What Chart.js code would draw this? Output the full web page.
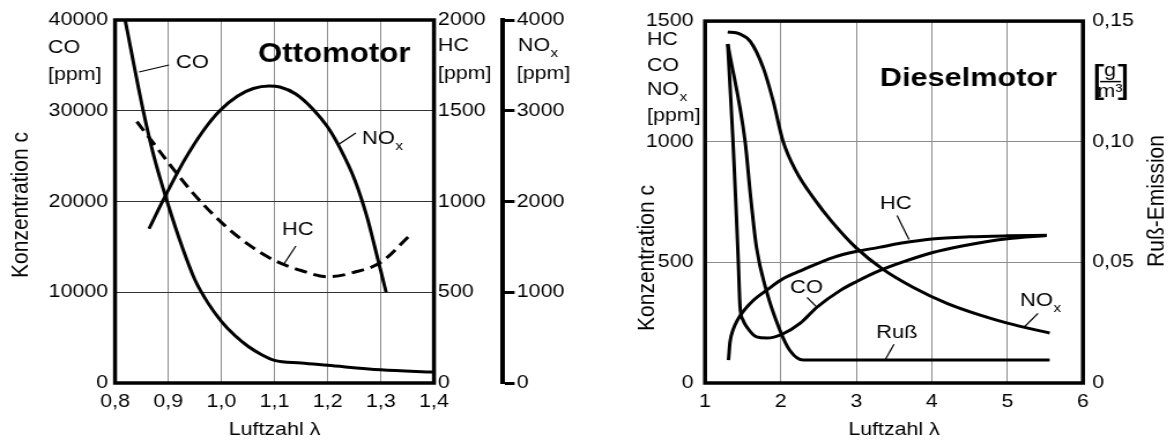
<!DOCTYPE html>
<html>
<head>
<meta charset="utf-8">
<script src="https://cdn.jsdelivr.net/npm/chart.js@4.4.1/dist/chart.umd.min.js"></script>
<style>
  html, body { margin: 0; padding: 0; background: #fff; }
  #wrap { position: relative; width: 1174px; height: 443px; overflow: hidden; }
  canvas { position: absolute; top: 0; }
</style>
</head>
<body>
<div id="wrap">
  <canvas id="otto" width="502" height="443" style="left:0;width:580px;height:443px"></canvas>
  <canvas id="diesel" width="514" height="443" style="left:580px;width:594px;height:443px"></canvas>
</div>
<script>
// --- Ottomotor data (Luftzahl λ -> Konzentration) ---
const ottoLambdaTicks = [0.8, 0.9, 1.0, 1.1, 1.2, 1.3, 1.4];
const ottoLambdaLabels = ['0,8', '0,9', '1,0', '1,1', '1,2', '1,3', '1,4'];
const ottoCoTicks = [0, 10000, 20000, 30000, 40000];
const ottoHcTicks = [0, 500, 1000, 1500, 2000];
const ottoNoxTicks = [0, 1000, 2000, 3000, 4000];

const ottoCoLambda = [0.819, 0.853, 0.873, 0.898, 0.925, 0.95, 0.975, 1.0, 1.025, 1.05, 1.075, 1.1, 1.15, 1.2, 1.3, 1.4];
const ottoCo = [40000, 30000, 25000, 20000, 15200, 11400, 8800, 6800, 5250, 4050, 3150, 2500, 2200, 1950, 1450, 1200];

const ottoHcLambda = [0.841, 0.87, 0.9, 0.95, 1.0, 1.05, 1.1, 1.15, 1.2, 1.25, 1.3, 1.355];
const ottoHc = [1440, 1330, 1215, 1035, 885, 765, 675, 620, 585, 610, 665, 815];

const ottoNoxLambda = [0.864, 0.891, 0.93, 0.966, 0.997, 1.03, 1.06, 1.09, 1.11, 1.14, 1.172, 1.2, 1.223, 1.251, 1.274, 1.292, 1.31];
const ottoNox = [1700, 2020, 2450, 2780, 3000, 3160, 3245, 3273, 3262, 3185, 3020, 2820, 2590, 2237, 1830, 1420, 1000];

// --- Dieselmotor data ---
const dieselLambdaTicks = [1, 2, 3, 4, 5, 6];
const dieselLambdaLabels = ['1', '2', '3', '4', '5', '6'];
const dieselPpmTicks = [0, 500, 1000, 1500];
const dieselRussTicks = [0, 0.05, 0.10, 0.15];
const dieselRussLabels = ['0', '0,05', '0,10', '0,15'];

const dieselNoxLambda = [1.3, 1.45, 1.6, 1.77, 1.9, 2.03, 2.2, 2.45, 2.68, 3.0, 3.35, 3.75, 4.2, 4.64, 5.0, 5.56];
const dieselNox = [1455, 1448, 1415, 1306, 1170, 1004, 880, 760, 668, 560, 472, 397, 330, 281, 248, 207];

const dieselHcLambda = [1.31, 1.33, 1.37, 1.43, 1.5, 1.64, 1.82, 2.03, 2.3, 2.7, 3.0, 3.3, 3.6, 4.0, 4.5, 5.0, 5.52];
const dieselHc = [95, 170, 220, 262, 295, 343, 386, 432, 470, 521, 545, 562, 580, 597, 606, 610, 612];

const dieselCoLambda = [1.3, 1.37, 1.415, 1.44, 1.463, 1.5, 1.55, 1.68, 1.82, 2.02, 2.26, 2.48, 2.79, 3.0, 3.3, 3.6, 4.0, 4.4, 5.0, 5.52];
const dieselCo = [1405, 1000, 690, 500, 315, 262, 233, 191, 186, 202, 248, 314, 384, 420, 465, 500, 540, 568, 598, 611];

const dieselRussLambda = [1.3, 1.53, 1.6, 1.68, 1.81, 1.99, 2.12, 2.3, 5.56];
const dieselRuss = [0.1405, 0.1, 0.078, 0.0562, 0.0384, 0.0219, 0.0136, 0.0095, 0.0095];

// the scan is stretched horizontally, canvases are drawn narrower and widened by css
const S = 1.155;
const FONT = '"Liberation Sans", Arial, sans-serif';

Chart.defaults.font.family = FONT;
Chart.defaults.font.size = 18.5;
Chart.defaults.color = '#000';

function series(xs, ys, axis, dash) {
    return {
        data: xs.map((x, i) => ({ x: x, y: ys[i] })),
        yAxisID: axis,
        borderColor: '#000',
        borderWidth: 3,
        borderDash: dash || [],
        pointRadius: 0,
        fill: false,
        cubicInterpolationMode: 'monotone'
    };
}

function fixedTicks(values) {
    return s => { s.ticks = values.map(v => ({ value: v })); };
}

function txt(ctx, s, x, y, size, opt) {
    opt = opt || {};
    ctx.save();
    ctx.fillStyle = '#000';
    ctx.font = (opt.bold ? 'bold ' : '') + size + 'px ' + FONT;
    ctx.textAlign = opt.align || 'left';
    ctx.textBaseline = 'middle';
    ctx.fillText(s, x, y);
    if (opt.sub) {
        const w = ctx.measureText(s).width;
        ctx.font = Math.round(size * 0.7) + 'px ' + FONT;
        ctx.textAlign = 'left';
        ctx.fillText(opt.sub, x + w + 0.5, y + size * 0.38);
    }
    ctx.restore();
}

function vtxt(ctx, s, x, y, size) {
    ctx.save();
    ctx.translate(x, y);
    ctx.rotate(-Math.PI / 2);
    ctx.fillStyle = '#000';
    ctx.font = size + 'px ' + FONT;
    ctx.textAlign = 'center';
    ctx.textBaseline = 'middle';
    ctx.fillText(s, 0, 0);
    ctx.restore();
}

function leader(ctx, a, b) {
    ctx.save();
    ctx.beginPath();
    ctx.moveTo(a[0], a[1]);
    ctx.lineTo(b[0], b[1]);
    ctx.lineWidth = 1.2;
    ctx.strokeStyle = '#000';
    ctx.stroke();
    ctx.restore();
}

function frame(chart) {
    const { ctx, chartArea: a } = chart;
    ctx.save();
    ctx.lineWidth = 3.5;
    ctx.strokeStyle = '#000';
    ctx.strokeRect(a.left, a.top, a.right - a.left, a.bottom - a.top);
    ctx.restore();
}

const baseOptions = {
    responsive: false,
    devicePixelRatio: 1,
    animation: false,
    events: [],
    layout: { padding: { top: 20, left: 0, right: 0, bottom: 0 } },
    plugins: { legend: { display: false }, tooltip: { enabled: false } }
};

// --- Ottomotor ---
const ottoDecor = {
    id: 'ottoDecor',
    afterDatasetsDraw(chart) {
        const { ctx, chartArea: a, scales: { x, co, hc, nox } } = chart;
        const p = (lx, v) => [x.getPixelForValue(lx), co.getPixelForValue(v)];
        frame(chart);

        // axis units
        txt(ctx, 'CO', co.left + 48 / S, a.top + 28, 18.5);
        txt(ctx, '[ppm]', co.left + 48 / S, a.top + 55, 18.5);
        txt(ctx, 'HC', hc.left + 3.5, a.top + 26, 18.5);
        txt(ctx, '[ppm]', hc.left + 3.5, a.top + 54, 18.5);
        txt(ctx, 'NO', nox.left + 13, a.top + 26, 18.5, { sub: 'x' });
        txt(ctx, '[ppm]', nox.left + 12, a.top + 54, 18.5);
        vtxt(ctx, 'Konzentration c', 21 / S, 205, 21);

        // curve labels
        let q = p(1.0688, 36143);
        txt(ctx, 'Ottomotor', q[0], q[1], 27, { bold: true });
        q = p(0.9147, 35262);
        txt(ctx, 'CO', q[0], q[1], 19);
        leader(ctx, p(0.8451, 34270), p(0.9015, 35041));
        q = p(1.2643, 26887);
        txt(ctx, 'NO', q[0], q[1], 19, { sub: 'x' });
        leader(ctx, p(1.2211, 26300), p(1.2530, 27548));
        q = p(1.1139, 16860);
        txt(ctx, 'HC', q[0], q[1], 19);
        leader(ctx, p(1.1402, 15096), p(1.1177, 13113));
    }
};

new Chart(document.getElementById('otto'), {
    type: 'line',
    data: {
        datasets: [
            series(ottoCoLambda, ottoCo, 'co'),
            series(ottoHcLambda, ottoHc, 'hc', [11, 6]),
            series(ottoNoxLambda, ottoNox, 'nox')
        ]
    },
    options: {
        ...baseOptions,
        scales: {
            x: {
                type: 'linear', min: 0.8, max: 1.4,
                afterBuildTicks: fixedTicks(ottoLambdaTicks),
                afterFit: s => { s.height = 60; },
                ticks: { callback: (v, i) => ottoLambdaLabels[i], padding: 8, maxRotation: 0, autoSkip: false },
                grid: { color: '#8c8c8c', lineWidth: 1, drawTicks: false },
                border: { display: false },
                title: { display: true, text: 'Luftzahl λ', padding: { top: 0, bottom: 2 } }
            },
            co: {
                position: 'left', min: 0, max: 40000,
                afterBuildTicks: fixedTicks(ottoCoTicks),
                afterFit: s => { s.width = 115 / S; },
                ticks: { callback: v => String(v), padding: 6, autoSkip: false },
                grid: { color: '#333', lineWidth: 1, drawTicks: false },
                border: { display: false }
            },
            hc: {
                position: 'right', weight: 0, min: 0, max: 2000,
                afterBuildTicks: fixedTicks(ottoHcTicks),
                afterFit: s => { s.width = 69 / S; },
                ticks: { callback: v => String(v), padding: 3.5, autoSkip: false },
                grid: { drawOnChartArea: false, drawTicks: false },
                border: { display: false }
            },
            nox: {
                position: 'right', weight: 1, min: 0, max: 4000,
                afterBuildTicks: fixedTicks(ottoNoxTicks),
                afterFit: s => { s.width = 77 / S; },
                ticks: { callback: v => String(v), padding: 2, autoSkip: false },
                grid: { drawOnChartArea: false, drawTicks: true, tickLength: 10, tickWidth: 3, tickColor: '#000' },
                border: { display: true, width: 4, color: '#000' }
            }
        }
    },
    plugins: [ottoDecor]
});

// --- Dieselmotor ---
const dieselDecor = {
    id: 'dieselDecor',
    afterDatasetsDraw(chart) {
        const { ctx, chartArea: a, scales: { x, c, russ } } = chart;
        const p = (lx, v) => [x.getPixelForValue(lx), c.getPixelForValue(v)];
        frame(chart);

        // axis units
        const ux = c.left + 67 / S;
        txt(ctx, 'HC', ux, a.top + 18.5, 18.5);
        txt(ctx, 'CO', ux, a.top + 45, 18.5);
        txt(ctx, 'NO', ux, a.top + 69, 18.5, { sub: 'x' });
        txt(ctx, '[ppm]', ux, a.top + 95, 18.5);
        vtxt(ctx, 'Konzentration c', 67 / S, 258, 21);

        // [g/m³]
        const rx = russ.left + 9 / S;
        txt(ctx, '[', rx, a.top + 60, 38);
        txt(ctx, ']', rx + 38 / S, a.top + 60, 38, { align: 'right' });
        const cx = rx + 18 / S;
        txt(ctx, 'g', cx, a.top + 50, 18.5, { align: 'center' });
        txt(ctx, 'm³', cx, a.top + 71, 18.5, { align: 'center' });
        ctx.save();
        ctx.beginPath();
        ctx.moveTo(cx - 10 / S, a.top + 60.5);
        ctx.lineTo(cx + 11 / S, a.top + 60.5);
        ctx.lineWidth = 1.5;
        ctx.stroke();
        ctx.restore();
        vtxt(ctx, 'Ruß-Emission', (1157 - 580) / S, 201, 21);

        // curve labels
        let q = p(3.315, 1260);
        txt(ctx, 'Dieselmotor', q[0], q[1], 26.5, { bold: true });
        q = p(3.315, 744);
        txt(ctx, 'HC', q[0], q[1], 19);
        leader(ctx, p(3.54, 694), p(3.698, 595));
        q = p(2.124, 393);
        txt(ctx, 'CO', q[0], q[1], 19);
        leader(ctx, p(2.349, 355), p(2.468, 318));
        q = p(3.262, 207);
        txt(ctx, 'Ruß', q[0], q[1], 19);
        leader(ctx, p(3.5, 161), p(3.381, 95));
        q = p(5.167, 339);
        txt(ctx, 'NO', q[0], q[1], 19, { sub: 'x' });
        leader(ctx, p(5.405, 289), p(5.22, 231));
    }
};

new Chart(document.getElementById('diesel'), {
    type: 'line',
    data: {
        datasets: [
            series(dieselNoxLambda, dieselNox, 'c'),
            series(dieselHcLambda, dieselHc, 'c'),
            series(dieselCoLambda, dieselCo, 'c'),
            series(dieselRussLambda, dieselRuss, 'russ')
        ]
    },
    options: {
        ...baseOptions,
        scales: {
            x: {
                type: 'linear', min: 1, max: 6,
                afterBuildTicks: fixedTicks(dieselLambdaTicks),
                afterFit: s => { s.height = 60; },
                ticks: { callback: (v, i) => dieselLambdaLabels[i], padding: 8, maxRotation: 0, autoSkip: false },
                grid: { color: '#8c8c8c', lineWidth: 1, drawTicks: false },
                border: { display: false },
                title: { display: true, text: 'Luftzahl λ', padding: { top: 0, bottom: 2 } }
            },
            c: {
                position: 'left', min: 0, max: 1500,
                afterBuildTicks: fixedTicks(dieselPpmTicks),
                afterFit: s => { s.width = 125 / S; },
                ticks: { callback: v => String(v), padding: 10, autoSkip: false },
                grid: { color: '#8c8c8c', lineWidth: 1, drawTicks: false },
                border: { display: false }
            },
            russ: {
                position: 'right', min: 0, max: 0.15,
                afterBuildTicks: fixedTicks(dieselRussTicks),
                afterFit: s => { s.width = 91 / S; },
                ticks: { callback: (v, i) => dieselRussLabels[i], padding: 8, autoSkip: false },
                grid: { drawOnChartArea: false, drawTicks: false },
                border: { display: false }
            }
        }
    },
    plugins: [dieselDecor]
});
</script>
</body>
</html>
